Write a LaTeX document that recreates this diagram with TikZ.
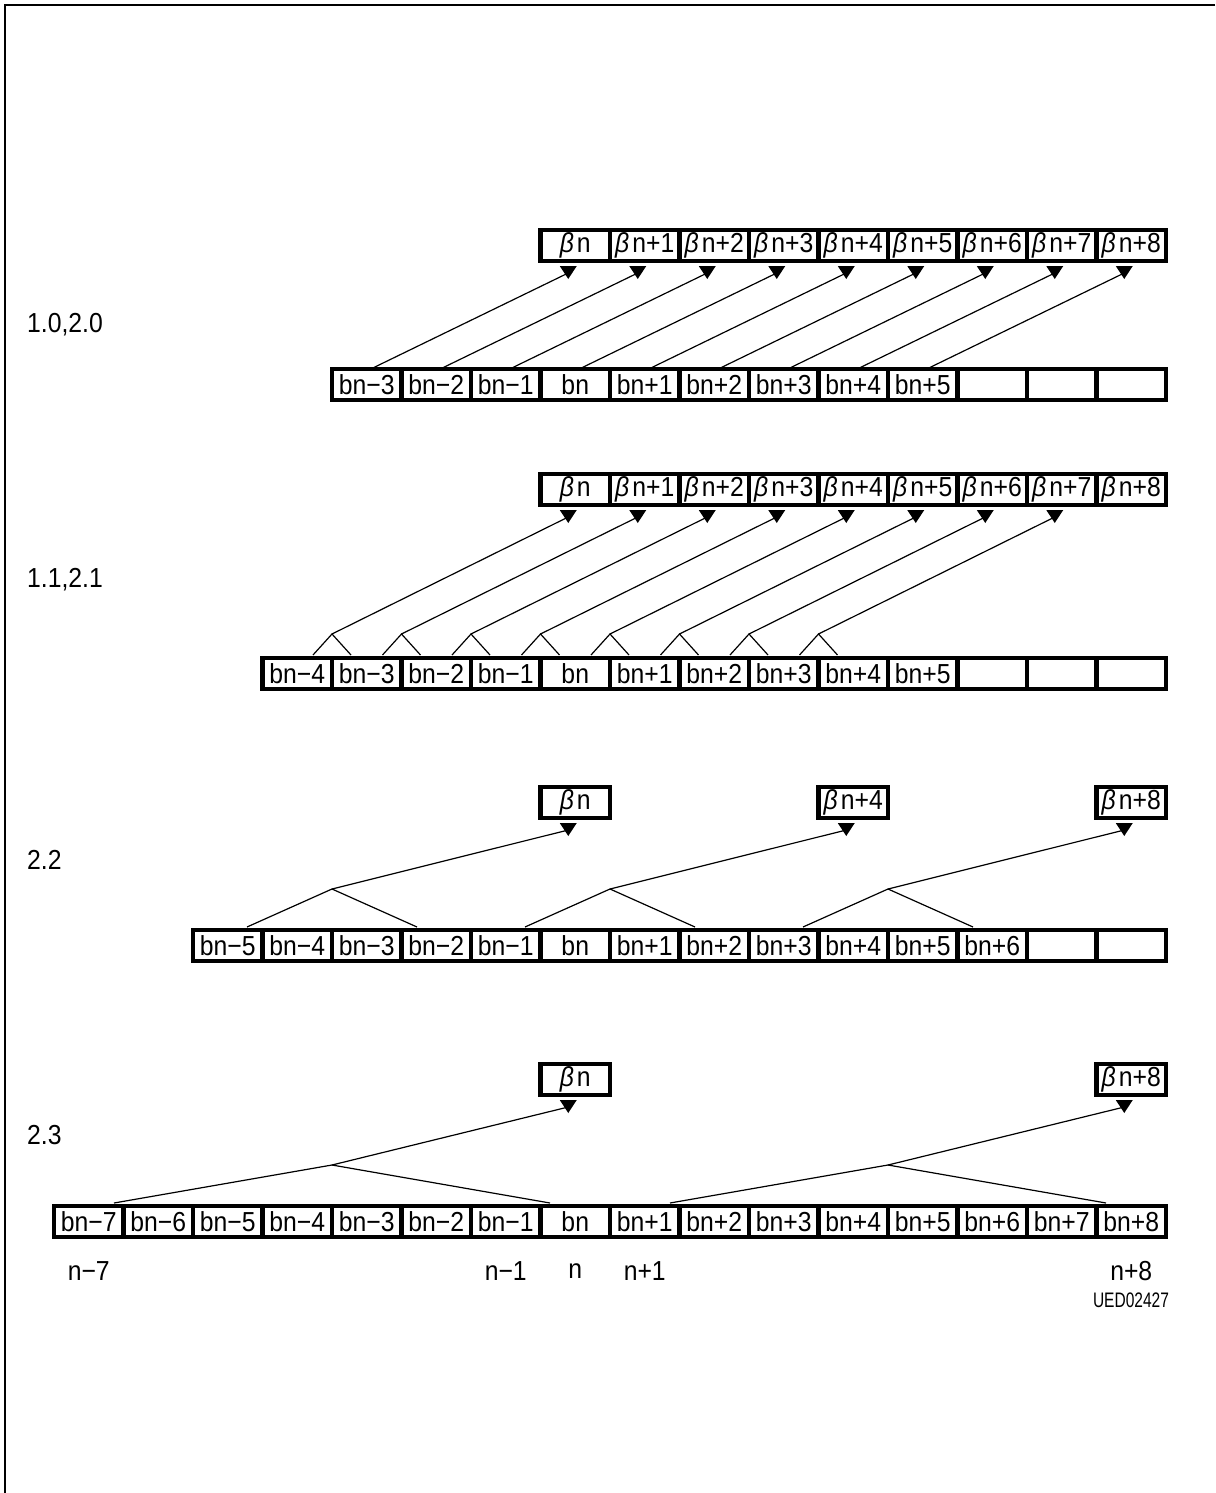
\documentclass[tikz,border=0pt]{standalone}
\usepackage{fontspec}
\setmainfont{Liberation Sans}
\newfontfamily\labfont[FakeStretch=0.9]{Liberation Sans}
\newfontfamily\smallfont[FakeStretch=0.74]{Liberation Sans}
\usetikzlibrary{calc}
\newcommand\lab{\labfont\fontsize{27.5}{30}\selectfont}
\newcommand\bet{\textit{β}\kern3pt}
\newcommand\mytri[1]{\fill ($(#1.south)+(-7,18)$) -- ++(-8.5,-13) -- ++(17,0) -- cycle;}
\tikzset{
  cell/.style={draw, line width=4.2pt, minimum width=69.5pt, minimum height=31pt,
    inner sep=0pt, outer sep=0pt, font=\lab},
  conn/.style={line width=1.2pt},
  lab/.style={font=\lab, inner sep=0pt}
}
\begin{document}
\begin{tikzpicture}[x=1pt,y=-1pt]
\useasboundingbox (0,0) rectangle (1215,1493);
\draw[line width=1.5pt] (1215,5) -- (5,5) -- (5,1493);

% ---------- Row 1 : 1.0,2.0
\node[lab, anchor=west] (L1) at (27,325) {1.0,2.0};
\foreach \k/\txt in {7/\bet n,8/\bet n+1,9/\bet n+2,10/\bet n+3,11/\bet n+4,12/\bet n+5,13/\bet n+6,14/\bet n+7,15/\bet n+8}
  \node[cell] (T1c\k) at ({88.75+69.5*\k},245.5) {\txt};
\foreach \k/\txt in {4/bn−3,5/bn−2,6/bn−1,7/bn,8/bn+1,9/bn+2,10/bn+3,11/bn+4,12/bn+5,13/,14/,15/}
  \node[cell] (B1c\k) at ({88.75+69.5*\k},384.5) {\txt};
\foreach \i in {0,...,8}{
  \pgfmathtruncatemacro\bb{4+\i}
  \pgfmathtruncatemacro\tb{7+\i}
  \draw[conn] ($(B1c\bb.north)+(4,0)$) -- ($(T1c\tb.south)+(-7,12)$);
  \mytri{T1c\tb}
}

% ---------- Row 2 : 1.1,2.1
\node[lab, anchor=west] (L2) at (27,580) {1.1,2.1};
\foreach \k/\txt in {7/\bet n,8/\bet n+1,9/\bet n+2,10/\bet n+3,11/\bet n+4,12/\bet n+5,13/\bet n+6,14/\bet n+7,15/\bet n+8}
  \node[cell] (T2c\k) at ({88.75+69.5*\k},489.5) {\txt};
\foreach \k/\txt in {3/bn−4,4/bn−3,5/bn−2,6/bn−1,7/bn,8/bn+1,9/bn+2,10/bn+3,11/bn+4,12/bn+5,13/,14/,15/}
  \node[cell] (B2c\k) at ({88.75+69.5*\k},673.5) {\txt};
\foreach \i in {0,...,7}{
  \pgfmathtruncatemacro\bb{4+\i}
  \pgfmathtruncatemacro\tb{7+\i}
  \coordinate (J2c\i) at ($(B2c\bb.north west)+(0,-24)$);
  \draw[conn] ($(B2c\bb.north west)+(-19,-3)$) -- (J2c\i) -- ($(B2c\bb.north west)+(19,-3)$);
  \draw[conn] (J2c\i) -- ($(T2c\tb.south)+(-7,12)$);
  \mytri{T2c\tb}
}

% ---------- Row 3 : 2.2
\node[lab, anchor=west] (L3) at (27,860) {2.2};
\foreach \k/\txt in {7/\bet n,11/\bet n+4,15/\bet n+8}
  \node[cell] (T3c\k) at ({88.75+69.5*\k},802.5) {\txt};
\foreach \k/\txt in {2/bn−5,3/bn−4,4/bn−3,5/bn−2,6/bn−1,7/bn,8/bn+1,9/bn+2,10/bn+3,11/bn+4,12/bn+5,13/bn+6,14/,15/}
  \node[cell] (B3c\k) at ({88.75+69.5*\k},945.5) {\txt};
\foreach \bb/\tb in {4/7,8/11,12/15}{
  \coordinate (J3c\bb) at ($(B3c\bb.north west)+(0,-41)$);
  \draw[conn] ($(B3c\bb.north west)+(-85,-3)$) -- (J3c\bb) -- ($(B3c\bb.north west)+(85,-3)$);
  \draw[conn] (J3c\bb) -- ($(T3c\tb.south)+(-7,12)$);
  \mytri{T3c\tb}
}

% ---------- Row 4 : 2.3
\node[lab, anchor=west] (L4) at (27,1135) {2.3};
\foreach \k/\txt in {7/\bet n,15/\bet n+8}
  \node[cell] (T4c\k) at ({88.75+69.5*\k},1079.5) {\txt};
\foreach \k/\txt in {0/bn−7,1/bn−6,2/bn−5,3/bn−4,4/bn−3,5/bn−2,6/bn−1,7/bn,8/bn+1,9/bn+2,10/bn+3,11/bn+4,12/bn+5,13/bn+6,14/bn+7,15/bn+8}
  \node[cell] (B4c\k) at ({88.75+69.5*\k},1221.5) {\txt};
\foreach \bb/\tb in {4/7,12/15}{
  \coordinate (J4c\bb) at ($(B4c\bb.north west)+(0,-41)$);
  \draw[conn] ($(B4c\bb.north west)+(-218,-3)$) -- (J4c\bb) -- ($(B4c\bb.north west)+(218,-3)$);
  \draw[conn] (J4c\bb) -- ($(T4c\tb.south)+(-7,12)$);
  \mytri{T4c\tb}
}
\foreach \k/\txt in {0/n−7,6/n−1,7/n,8/n+1,15/n+8}
  \node[lab] (N\k) at ($(B4c\k.south)+(0,34)$) {\txt};
\node[font=\smallfont\fontsize{21}{22}\selectfont, inner sep=0pt] (id) at (1131,1300) {UED02427};
\end{tikzpicture}
\end{document}
